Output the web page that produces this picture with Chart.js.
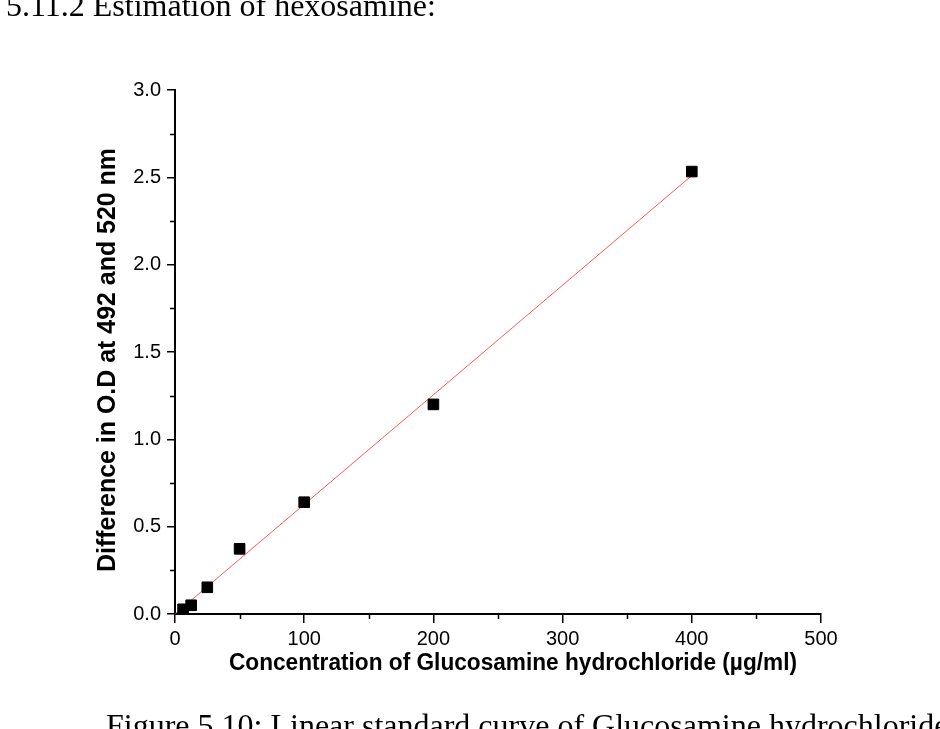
<!DOCTYPE html>
<html>
<head>
<meta charset="utf-8">
<script src="https://cdn.jsdelivr.net/npm/chart.js@4.4.0/dist/chart.umd.min.js"></script>
<style>
  html, body { margin: 0; padding: 0; background: #fff; }
  #wrap { width: 940px; height: 729px; position: relative; }
</style>
</head>
<body>
<div id="wrap"><canvas id="curve" width="940" height="729"></canvas></div>
<script>
// glucosamine standard curve
const conc = [6.25, 12.5, 25, 50, 100, 200, 400];
const odDiff = [0.027, 0.05, 0.153, 0.373, 0.64, 1.2, 2.533];
// linear fit endpoints as drawn
const fitConc = [0, 400];
const fitOd = [0, 2.51];

const xMinor = [50, 150, 250, 350, 450];
const yMinor = [0.25, 0.75, 1.25, 1.75, 2.25, 2.75];

const headingText = '5.11.2 Estimation of hexosamine:';
const captionText = 'Figure 5.10: Linear standard curve of Glucosamine hydrochloride';
const xTitle = 'Concentration of Glucosamine hydrochloride (\u00b5g/ml)';
const yTitle = 'Difference in O.D at 492 and 520 nm';

const extras = {
    id: 'extras',
    afterDraw(chart) {
        const ctx = chart.ctx;
        const xs = chart.scales.x, ys = chart.scales.y;
        const area = chart.chartArea;
        ctx.save();
        // minor ticks
        ctx.strokeStyle = '#000';
        ctx.lineWidth = 1.5;
        ctx.beginPath();
        xMinor.forEach(v => {
            const px = Math.round(xs.getPixelForValue(v)) + 0.5;
            ctx.moveTo(px, area.bottom);
            ctx.lineTo(px, area.bottom + 5);
        });
        yMinor.forEach(v => {
            const py = Math.round(ys.getPixelForValue(v)) + 0.5;
            ctx.moveTo(area.left, py);
            ctx.lineTo(area.left - 5, py);
        });
        ctx.stroke();

        // axis titles
        ctx.fillStyle = '#000';
        ctx.textAlign = 'center';
        ctx.textBaseline = 'middle';
        ctx.font = 'bold 23px "Liberation Sans", Arial, sans-serif';
        ctx.fillText(xTitle, 513, 664, 568);
        ctx.translate(108, 360);
        ctx.rotate(-Math.PI / 2);
        ctx.font = 'bold 25px "Liberation Sans", Arial, sans-serif';
        ctx.fillText(yTitle, 0, 0, 424);
        ctx.setTransform(1, 0, 0, 1, 0, 0);

        // surrounding document text
        ctx.font = '32px "Liberation Serif", "Times New Roman", serif';
        ctx.textAlign = 'left';
        ctx.textBaseline = 'alphabetic';
        ctx.fillText(headingText, 6, 16);
        ctx.fillText(captionText, 106, 736);
        ctx.restore();
    }
};

new Chart(document.getElementById('curve'), {
    type: 'scatter',
    data: {
        datasets: [{
            label: 'fit',
            type: 'line',
            data: fitConc.map((c, i) => ({x: c, y: fitOd[i]})),
            borderColor: 'rgba(255, 60, 60, 0.85)',
            borderWidth: 1,
            pointRadius: 0,
            fill: false,
            order: 2
        }, {
            label: 'standard',
            data: conc.map((c, i) => ({x: c, y: odDiff[i]})),
            pointStyle: 'rect',
            pointRadius: 7.5,
            pointBackgroundColor: '#000',
            pointBorderColor: '#000',
            pointBorderWidth: 1,
            order: 1
        }]
    },
    options: {
        responsive: false,
        animation: false,
        layout: { padding: { top: 90, right: 119, left: 0, bottom: 0 } },
        plugins: { legend: { display: false }, tooltip: { enabled: false } },
        scales: {
            x: {
                type: 'linear',
                min: 0, max: 500,
                ticks: { stepSize: 100, color: '#000', padding: 4,
                         font: { family: '"Liberation Sans", Arial', size: 20 } },
                grid: { drawOnChartArea: false, drawTicks: true, tickLength: 9, color: '#000', lineWidth: 1.5 },
                border: { display: true, color: '#000', width: 2 },
                afterFit(scale) { scale.height = 115; }
            },
            y: {
                type: 'linear',
                min: 0, max: 3,
                ticks: { stepSize: 0.5, color: '#000', padding: 6,
                         callback: v => v.toFixed(1),
                         font: { family: '"Liberation Sans", Arial', size: 20 } },
                grid: { drawOnChartArea: false, drawTicks: true, tickLength: 8, color: '#000', lineWidth: 1.5 },
                border: { display: true, color: '#000', width: 2 },
                afterFit(scale) { scale.width = 175; }
            }
        }
    },
    plugins: [extras]
});
</script>
</body>
</html>
